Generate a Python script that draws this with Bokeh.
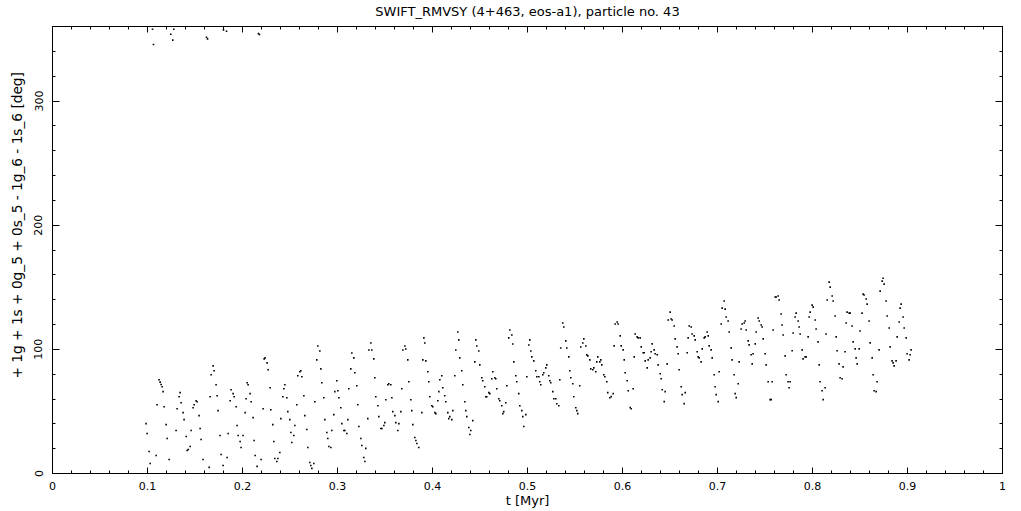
from bokeh.plotting import figure
from bokeh.models import (Range1d, FixedTicker, LinearAxis, Title, ColumnDataSource,
                          CustomLabelingPolicy)
from bokeh.embed import file_html
from bokeh.resources import INLINE

title_text = "SWIFT_RMVSY (4+463, eos-a1), particle no. 43"
x_label = "t [Myr]"
y_label = "+ 1g + 1s + 0g_5 + 0s_5 - 1g_6 - 1s_6 [deg]"

x_ticks = [0, 0.1, 0.2, 0.3, 0.4, 0.5, 0.6, 0.7, 0.8, 0.9, 1]
x_tick_labels = ["0", "0.1", "0.2", "0.3", "0.4", "0.5", "0.6", "0.7", "0.8", "0.9", "1"]
x_minor = [round(i * 0.02, 2) for i in range(51)]
y_ticks = [0, 100, 200, 300]
y_tick_labels = ["0", "100", "200", "300"]
y_minor = [i * 20 for i in range(19)]

# time [Myr] and angle [deg] in five consecutive stretches
t_a = [0.0985, 0.0996, 0.1017, 0.1028, 0.1053, 0.1063, 0.1091, 0.1101, 0.1122, 0.1133,
       0.1143, 0.1154, 0.1164, 0.1175, 0.1196, 0.1207, 0.1228, 0.1245, 0.1266, 0.1277,
       0.1301, 0.1312, 0.1333, 0.1343, 0.1354, 0.1375, 0.1385, 0.1407, 0.1417, 0.1428,
       0.1449, 0.1459, 0.1480, 0.1491, 0.1512, 0.1522, 0.1543, 0.1554, 0.1564, 0.1585,
       0.1621, 0.1632, 0.1649, 0.1659, 0.1670, 0.1691, 0.1701, 0.1722, 0.1733, 0.1743,
       0.1764, 0.1775, 0.1796, 0.1800, 0.1832, 0.1838, 0.1849, 0.1870, 0.1880, 0.1901,
       0.1912, 0.1933, 0.1943, 0.1954, 0.1975, 0.1985, 0.2006, 0.2028, 0.2038, 0.2049,
       0.2059, 0.2080, 0.2091, 0.2112, 0.2122, 0.2133, 0.2154, 0.2168, 0.2179, 0.2196,
       0.2217, 0.2228, 0.2238, 0.2259, 0.2270, 0.2291]
y_a = [40.2, 32.2, 17.7, 8.1, 357.8, 345.5, 14.5, 55.4, 75.5, 73.6,
       71.7, 69.9, 65.9, 53.8, 39.4, 28.2, 11.3, 353.8, 349.0, 357.8,
       34.6, 52.2, 61.8, 65.1, 57.0, 49.0, 43.4, 29.8, 18.5, 19.3,
       21.8, 34.6, 53.0, 55.4, 58.6, 57.8, 46.6, 36.2, 27.4, 11.3,
       351.4, 350.0, 4.9, 61.8, 79.5, 86.7, 82.7, 71.5, 62.6, 50.6,
       30.6, 15.3, 6.5, 357.3, 356.2, 12.9, 32.2, 58.6, 67.5, 64.3,
       61.8, 53.8, 38.6, 30.6, 25.8, 21.0, 30.6, 49.0, 60.2, 73.1,
       71.5, 64.3, 57.8, 45.0, 26.6, 14.5, 5.7, 354.3, 353.5, 11.3,
       52.2, 92.3, 93.1, 89.1, 83.5, 69.1]

t_b = [0.2298, 0.2319, 0.2330, 0.2340, 0.2361, 0.2372, 0.2393, 0.2404, 0.2425, 0.2435,
       0.2446, 0.2467, 0.2477, 0.2498, 0.2509, 0.2519, 0.2540, 0.2551, 0.2572, 0.2582,
       0.2603, 0.2614, 0.2625, 0.2646, 0.2656, 0.2677, 0.2688, 0.2709, 0.2719, 0.2730,
       0.2751, 0.2761, 0.2782, 0.2793, 0.2814, 0.2825, 0.2835, 0.2856, 0.2867, 0.2888,
       0.2898, 0.2909, 0.2930, 0.2940, 0.2961, 0.2972, 0.2993, 0.3004, 0.3014, 0.3035,
       0.3046, 0.3067, 0.3077, 0.3098, 0.3109, 0.3119, 0.3140, 0.3151, 0.3172, 0.3182,
       0.3203, 0.3214, 0.3225, 0.3246, 0.3256, 0.3277, 0.3288, 0.3298, 0.3319, 0.3330,
       0.3351, 0.3361, 0.3382, 0.3393, 0.3403, 0.3425, 0.3435, 0.3456, 0.3467, 0.3488,
       0.3498, 0.3509, 0.3530, 0.3540, 0.3561, 0.3572, 0.3582, 0.3604, 0.3614, 0.3635,
       0.3646, 0.3667, 0.3677, 0.3688, 0.3709, 0.3719, 0.3740, 0.3751, 0.3772, 0.3782,
       0.3793, 0.3814, 0.3825, 0.3835, 0.3856, 0.3888, 0.3898, 0.3909, 0.3919, 0.3930,
       0.3951, 0.3961, 0.3972, 0.3993, 0.4003, 0.4025, 0.4035, 0.4056, 0.4067, 0.4077]
y_b = [51.4, 39.4, 25.8, 12.1, 9.7, 12.1, 16.9, 44.2, 61.8, 68.3,
       71.5, 61.0, 49.8, 43.4, 33.0, 25.0, 30.6, 38.6, 55.4, 78.7,
       81.9, 82.7, 77.9, 62.6, 46.6, 35.4, 21.0, 8.9, 6.5, 4.1,
       8.1, 57.8, 91.5, 102.7, 98.7, 84.3, 73.1, 61.0, 43.4, 33.0,
       28.2, 21.8, 21.0, 34.6, 47.4, 65.9, 74.7, 66.7, 61.0, 53.0,
       40.2, 34.6, 34.6, 32.2, 43.4, 68.3, 84.3, 97.1, 93.1, 81.1,
       70.7, 55.4, 37.8, 28.2, 22.6, 12.9, 9.7, 20.2, 44.2, 99.5,
       105.1, 99.5, 92.3, 77.1, 61.8, 54.6, 45.8, 36.2, 36.2, 38.6,
       41.0, 59.4, 71.5, 72.3, 71.5, 61.0, 49.8, 46.6, 41.0, 34.6,
       40.2, 49.8, 68.3, 99.5, 102.7, 100.3, 91.5, 73.9, 59.4, 50.6,
       39.4, 29.0, 26.6, 24.2, 21.0, 49.0, 91.5, 109.2, 105.1, 90.7,
       81.9, 73.9, 61.8, 54.6, 53.8, 49.0, 48.2, 58.6, 65.9, 75.5]

t_c = [0.4098, 0.4108, 0.4129, 0.4140, 0.4161, 0.4171, 0.4182, 0.4203, 0.4214, 0.4235,
       0.4245, 0.4266, 0.4277, 0.4287, 0.4308, 0.4319, 0.4340, 0.4350, 0.4361, 0.4382,
       0.4393, 0.4403, 0.4424, 0.4445, 0.4456, 0.4466, 0.4487, 0.4498, 0.4519, 0.4529,
       0.4550, 0.4561, 0.4571, 0.4593, 0.4603, 0.4624, 0.4635, 0.4656, 0.4666, 0.4677,
       0.4698, 0.4708, 0.4729, 0.4740, 0.4750, 0.4771, 0.4782, 0.4803, 0.4814, 0.4835,
       0.4845, 0.4856, 0.4877, 0.4887, 0.4908, 0.4919, 0.4940, 0.4950, 0.4961, 0.4982,
       0.4993, 0.5014, 0.5024, 0.5035, 0.5045, 0.5066, 0.5087, 0.5098, 0.5119, 0.5129,
       0.5140, 0.5161, 0.5171, 0.5193, 0.5203, 0.5224, 0.5235, 0.5245, 0.5266, 0.5277,
       0.5298, 0.5308, 0.5329, 0.5340, 0.5350, 0.5371, 0.5382, 0.5403, 0.5414, 0.5435,
       0.5445, 0.5456, 0.5477, 0.5487, 0.5508, 0.5519, 0.5529, 0.5550, 0.5561, 0.5582,
       0.5593, 0.5614, 0.5624, 0.5635, 0.5656, 0.5666, 0.5687, 0.5698, 0.5719, 0.5729,
       0.5740, 0.5761, 0.5772, 0.5782, 0.5803, 0.5814, 0.5835, 0.5845, 0.5866]
y_c = [78.7, 69.1, 62.6, 57.8, 49.0, 44.2, 45.8, 43.4, 50.6, 78.7,
       99.5, 114.0, 107.6, 93.1, 82.7, 71.5, 57.8, 50.6, 45.8, 37.0,
       31.4, 34.6, 42.6, 89.9, 107.6, 102.7, 98.7, 87.5, 77.1, 74.7,
       69.9, 61.8, 61.8, 65.1, 64.3, 76.3, 81.9, 77.1, 76.3, 68.3,
       60.2, 58.6, 54.6, 48.2, 49.8, 57.0, 70.7, 109.2, 115.6, 111.6,
       104.3, 89.9, 78.7, 73.9, 64.3, 54.6, 50.6, 45.8, 37.8, 47.4,
       77.9, 103.5, 107.6, 98.7, 93.9, 90.7, 82.7, 77.9, 77.9, 73.9,
       71.5, 79.5, 81.1, 85.1, 87.5, 78.7, 74.7, 73.1, 65.9, 60.2,
       60.2, 56.2, 54.6, 75.5, 101.1, 121.2, 118.0, 106.8, 101.1, 93.9,
       82.7, 77.1, 72.3, 61.8, 53.0, 50.6, 48.2, 70.7, 101.9, 105.1,
       108.4, 102.7, 95.5, 94.7, 91.5, 84.3, 83.5, 85.1, 81.9, 89.9,
       93.9, 89.9, 91.5, 87.5, 79.5, 77.9, 73.9, 65.1, 61.0]

t_d = [0.5881, 0.5902, 0.5912, 0.5923, 0.5944, 0.5954, 0.5976, 0.5986, 0.6007, 0.6018,
       0.6028, 0.6049, 0.6060, 0.6081, 0.6091, 0.6112, 0.6123, 0.6133, 0.6154, 0.6165,
       0.6186, 0.6197, 0.6218, 0.6228, 0.6239, 0.6260, 0.6270, 0.6291, 0.6302, 0.6312,
       0.6333, 0.6344, 0.6365, 0.6375, 0.6397, 0.6407, 0.6418, 0.6439, 0.6449, 0.6470,
       0.6481, 0.6502, 0.6512, 0.6523, 0.6544, 0.6554, 0.6575, 0.6586, 0.6596, 0.6618,
       0.6628, 0.6649, 0.6660, 0.6681, 0.6691, 0.6702, 0.6723, 0.6733, 0.6754, 0.6765,
       0.6786, 0.6797, 0.6807, 0.6828, 0.6839, 0.6860, 0.6870, 0.6891, 0.6902, 0.6912,
       0.6933, 0.6944, 0.6965, 0.6975, 0.6986, 0.7007, 0.7018, 0.7039, 0.7049, 0.7070,
       0.7081, 0.7091, 0.7112, 0.7123, 0.7144, 0.7154, 0.7175, 0.7186, 0.7197, 0.7218,
       0.7228, 0.7249, 0.7260, 0.7281, 0.7291, 0.7302, 0.7323, 0.7333, 0.7354, 0.7365,
       0.7375, 0.7397, 0.7407, 0.7428, 0.7439, 0.7460, 0.7470, 0.7481, 0.7502, 0.7512,
       0.7533, 0.7554, 0.7565, 0.7575, 0.7586, 0.7607, 0.7618, 0.7639, 0.7649]
y_d = [61.9, 64.3, 102.8, 120.4, 122.0, 120.4, 110.8, 102.8, 99.6, 91.5,
       81.1, 74.7, 66.7, 53.1, 52.2, 68.3, 93.9, 112.4, 110.0, 109.2,
       109.2, 102.0, 97.2, 97.2, 90.7, 85.1, 91.5, 93.1, 98.0, 104.4,
       99.6, 96.4, 95.6, 87.5, 80.3, 76.3, 67.5, 57.9, 65.9, 88.3,
       123.6, 130.0, 124.4, 123.6, 118.8, 108.4, 102.0, 96.4, 83.5, 69.9,
       63.5, 56.3, 65.1, 97.2, 109.2, 118.8, 118.0, 112.4, 110.8, 107.6,
       98.0, 93.9, 93.1, 89.9, 100.4, 109.2, 110.0, 114.0, 110.8, 102.8,
       99.6, 93.1, 79.5, 69.9, 63.5, 57.9, 81.9, 120.4, 133.2, 138.9,
       132.4, 126.0, 122.8, 114.0, 101.2, 91.5, 79.5, 64.3, 61.1, 72.3,
       89.9, 116.4, 120.4, 121.2, 122.8, 115.6, 106.8, 103.6, 95.6, 88.3,
       96.4, 104.4, 114.0, 125.2, 122.8, 119.6, 118.0, 108.4, 96.4, 87.5,
       73.9, 59.5, 59.5, 73.9, 115.6, 142.1, 142.1, 142.9, 139.7]

t_e = [0.7670, 0.7680, 0.7691, 0.7712, 0.7722, 0.7743, 0.7754, 0.7765, 0.7786, 0.7796,
       0.7817, 0.7828, 0.7849, 0.7859, 0.7870, 0.7891, 0.7901, 0.7922, 0.7933, 0.7954,
       0.7965, 0.7975, 0.7996, 0.8007, 0.8028, 0.8038, 0.8059, 0.8070, 0.8080, 0.8101,
       0.8112, 0.8133, 0.8143, 0.8154, 0.8175, 0.8186, 0.8207, 0.8217, 0.8238, 0.8249,
       0.8259, 0.8280, 0.8291, 0.8312, 0.8322, 0.8343, 0.8354, 0.8364, 0.8386, 0.8396,
       0.8417, 0.8428, 0.8449, 0.8459, 0.8470, 0.8491, 0.8501, 0.8522, 0.8533, 0.8543,
       0.8565, 0.8575, 0.8596, 0.8607, 0.8628, 0.8638, 0.8649, 0.8670, 0.8680, 0.8701,
       0.8712, 0.8733, 0.8743, 0.8754, 0.8775, 0.8786, 0.8807, 0.8817, 0.8838, 0.8849,
       0.8859, 0.8880, 0.8891, 0.8912, 0.8922, 0.8933, 0.8954, 0.8965, 0.8986, 0.8996,
       0.9017, 0.9028, 0.9038]
y_e = [128.4, 119.6, 111.6, 94.7, 79.5, 73.9, 69.1, 73.9, 98.8, 113.2,
       126.0, 129.2, 122.8, 118.0, 112.4, 99.6, 92.3, 93.9, 93.9, 110.0,
       126.0, 130.0, 135.6, 134.0, 123.6, 116.4, 106.0, 87.5, 73.9, 66.7,
       59.5, 69.1, 112.4, 139.7, 154.1, 150.1, 142.9, 138.9, 126.8, 110.0,
       98.8, 88.3, 77.1, 76.3, 85.9, 98.0, 121.2, 130.0, 129.2, 129.2,
       118.8, 106.0, 100.4, 93.1, 88.3, 100.4, 114.8, 129.2, 144.5, 143.7,
       140.5, 136.4, 122.8, 105.2, 93.1, 79.5, 66.7, 65.9, 73.9, 99.6,
       146.9, 154.9, 157.3, 152.5, 138.9, 126.8, 117.2, 102.0, 90.7, 89.1,
       86.7, 90.7, 110.0, 122.0, 133.2, 136.4, 126.0, 117.2, 109.2, 96.4,
       91.5, 95.6, 99.6]

t_all = t_a + t_b + t_c + t_d + t_e
y_all = y_a + y_b + y_c + y_d + y_e
n = min(len(t_all), len(y_all))
source = ColumnDataSource(data=dict(t=t_all[:n], ang=y_all[:n]))

FONT = "DejaVu Sans"

p = figure(frame_width=950, frame_height=447,
           x_range=Range1d(0, 1), y_range=Range1d(0, 360),
           output_backend="svg", toolbar_location=None, title=None,
           min_border_left=52, min_border_right=10, min_border_top=26,
           min_border_bottom=37,
           background_fill_color="white", border_fill_color="white")
p.grid.visible = False
p.outline_line_color = "black"
p.outline_line_width = 1

p.scatter("t", "ang", source=source, marker="square", size=1.6,
          fill_color="black", line_color=None)

xt = FixedTicker(ticks=x_ticks, minor_ticks=x_minor)
yt = FixedTicker(ticks=y_ticks, minor_ticks=y_minor)


def style(ax):
    ax.axis_line_color = "black"
    ax.major_tick_line_color = "black"
    ax.minor_tick_line_color = "black"
    ax.major_tick_out = 0
    ax.minor_tick_out = 0
    ax.major_label_text_font = FONT
    ax.major_label_text_font_size = "11px"
    ax.major_label_text_color = "black"
    ax.axis_label_text_font = FONT
    ax.axis_label_text_font_size = "13px"
    ax.axis_label_text_font_style = "normal"
    ax.axis_label_text_color = "black"


def hide_labels(ax):
    ax.major_label_policy = CustomLabelingPolicy(code="return []")
    ax.major_label_text_font_size = "1px"
    ax.major_label_standoff = 0


xa = p.xaxis[0]
xa.ticker = xt
xa.major_label_overrides = {v: s for v, s in zip(x_ticks, x_tick_labels)}
xa.axis_label = x_label
style(xa)
xa.major_tick_in = 6
xa.minor_tick_in = 3
xa.major_label_standoff = 8
xa.axis_label_standoff = 0

ya = p.yaxis[0]
ya.ticker = yt
ya.major_label_overrides = {v: s for v, s in zip(y_ticks, y_tick_labels)}
ya.axis_label = None
style(ya)
ya.major_tick_in = 7
ya.minor_tick_in = 3
ya.major_label_orientation = "vertical"
ya.major_label_standoff = 10

# top axis carries the title as its label (centred over the frame)
top = LinearAxis(ticker=xt, axis_label=title_text)
style(top)
hide_labels(top)
top.major_tick_in = 6
top.minor_tick_in = 3
top.axis_label_standoff = 4
p.add_layout(top, "above")

right = LinearAxis(ticker=yt)
style(right)
hide_labels(right)
right.major_tick_in = 7
right.minor_tick_in = 3
p.add_layout(right, "right")

# y axis label, placed along the left side as in the reference
p.add_layout(Title(text=y_label, align="left", offset=95, vertical_align="middle",
                   text_font=FONT, text_font_size="13.7px",
                   text_font_style="normal", text_color="black",
                   standoff=12), "left")

open("out.html", "w").write(file_html(p, INLINE))
